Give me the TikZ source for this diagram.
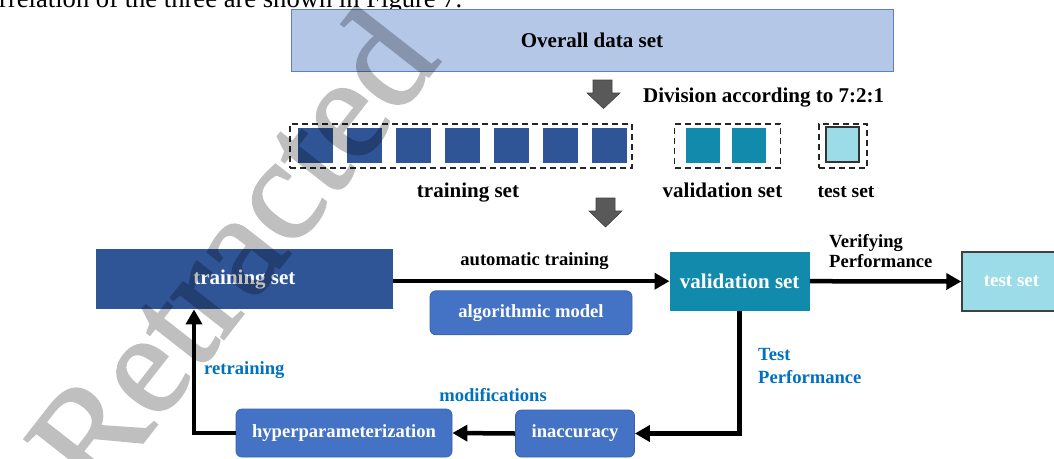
\documentclass[tikz,border=0pt]{standalone}
\usepackage{fontspec}
\setmainfont{Liberation Serif}
\newfontfamily\stampfont[FakeBold=1.5]{Liberation Serif}
\usetikzlibrary{arrows.meta,calc}
\definecolor{overallfill}{HTML}{B4C7E7}
\definecolor{overalledge}{HTML}{5B7FC0}
\definecolor{navyset}{HTML}{2F5597}
\definecolor{valteal}{HTML}{118AAB}
\definecolor{testcyan}{HTML}{9CDCE8}
\definecolor{modelblue}{HTML}{4472C4}
\definecolor{modeledge}{HTML}{3A62AC}
\definecolor{noteblue}{HTML}{0070C0}
\definecolor{arrowgray}{HTML}{595959}
\tikzset{
  big/.style={font=\bfseries\fontsize{21}{24}\selectfont},
  small/.style={font=\bfseries\fontsize{18.6}{21}\selectfont},
  block/.style={rectangle, inner sep=0pt, text=white},
  roundbox/.style={rectangle, rounded corners=6pt, fill=modelblue, draw=modeledge,
    line width=0.8pt, text=white, inner sep=0pt, small},
  cell/.style={rectangle, inner sep=0pt, minimum width=35pt, minimum height=35pt},
  group/.style={rectangle, inner sep=0pt, draw=black!85, dash pattern=on 6pt off 4pt, line width=1.5pt},
  flow/.style={line width=4.5pt, -{Triangle[length=15pt,width=16pt]}, line join=miter},
  note/.style={small, text=noteblue, inner sep=0pt},
  caption/.style={inner sep=0pt},
  bigarrow/.style={fill=arrowgray, draw=black!75, line width=0.6pt, line join=miter}
}
\begin{document}
\begin{tikzpicture}[x=1pt,y=-1pt]
\useasboundingbox (0,0) rectangle (1054,458);

% running text line above the figure
\node[caption, anchor=base west, font=\fontsize{26.6}{30}\selectfont] (topline) at (-1,7.5)
  {rrelation of the three are shown in Figure 7.};

% whole data set
\node[block, fill=overallfill, draw=overalledge, line width=1pt, text=black, big,
  minimum width=602pt, minimum height=62pt] (overall) at (592,40.5) {Overall data set};

% split arrow and ratio
\draw[bigarrow] (593,80) -- (612,80) -- (612,93) -- (620,93) -- (603.5,108.5)
  -- (587,93) -- (593,93) -- cycle;
\node[caption, big, anchor=base west] (ratio) at (643,102) {Division according to 7:2:1};

% seven training parts
\node[group, minimum width=342pt, minimum height=44pt] (trgroup) at (461,146) {};
\foreach \k in {0,...,6}
  \node[cell, fill=navyset] (tr\k) at ({315.5+49*\k},145.5) {};
\node[caption, big, anchor=base] (trlabel) at (468,197) {training set};

% two validation parts
\node[group, minimum width=106pt, minimum height=44pt] (vagroup) at (727.5,146) {};
\node[cell, fill=valteal, minimum width=34pt] (va0) at (703,145.5) {};
\node[cell, fill=valteal, minimum width=34pt] (va1) at (749,145.5) {};
\node[caption, big, anchor=base] (valabel) at (722.5,197) {validation set};

% one test part
\node[group, minimum width=48pt, minimum height=44pt] (tegroup) at (843,146) {};
\node[cell, fill=testcyan, draw=black!80, line width=1.2pt, minimum width=33pt]
  (te0) at (842.5,144.5) {};
\node[caption, anchor=base, font=\bfseries\fontsize{19.5}{22}\selectfont] (telabel) at (846,197) {test set};

% second arrow
\draw[bigarrow] (596,198) -- (615,198) -- (615,211) -- (622,211) -- (605.5,227)
  -- (589,211) -- (596,211) -- cycle;

% training loop
\node[block, fill=navyset, big, minimum width=297pt, minimum height=60pt] (train) at (244.4,279.2) {training set};
\node[block, fill=valteal, big, minimum width=140pt, minimum height=59pt] (valid) at (739.7,281.2) {validation set};
\node[block, fill=testcyan, draw=black!75, line width=1.5pt,
  font=\bfseries\fontsize{19}{22}\selectfont,
  minimum width=99pt, minimum height=59pt] (test) at (1011.5,281.5) {test set};
\node[roundbox, minimum width=202pt, minimum height=44pt] (model) at (531,312.8) {algorithmic model};
\node[roundbox, minimum width=119pt, minimum height=47pt] (inacc) at (575,433.5) {inaccuracy};
\node[roundbox, minimum width=216pt, minimum height=48pt] (hyper) at (344,433) {hyperparameterization};

\draw[flow] (train.east |- valid.west) -- (valid.west);
\draw[flow] (valid.east) -- (test.west);
\draw[flow] (valid.south) |- (inacc.east);
\draw[flow] (inacc.west) -- (hyper.east);
\draw[flow] (hyper.west) -| ([xshift=-50.4pt]train.south);

% connector labels
\node[caption, small, anchor=base] (autolabel) at (534.5,265) {automatic training};
\node[caption, small, anchor=base west] (verif1) at (829,247) {Verifying};
\node[caption, small, anchor=base west] (verif2) at (829,267) {Performance};
\node[note, anchor=base west] (perf1) at (758,360) {Test};
\node[note, anchor=base west] (perf2) at (758,383) {Performance};
\node[note, anchor=base] (modlabel) at (493,401.5) {modifications};
\node[note, anchor=base west] (relabel) at (204,374) {retraining};

% diagonal stamp over the figure, composited as one translucent layer
\begin{scope}[transparency group, opacity=0.25]
  \node[inner sep=0pt, rotate=52, text=black, font=\stampfont\fontsize{146}{146}\selectfont]
    (stamp) at (230,250) {Retracted};
\end{scope}
\end{tikzpicture}
\end{document}
